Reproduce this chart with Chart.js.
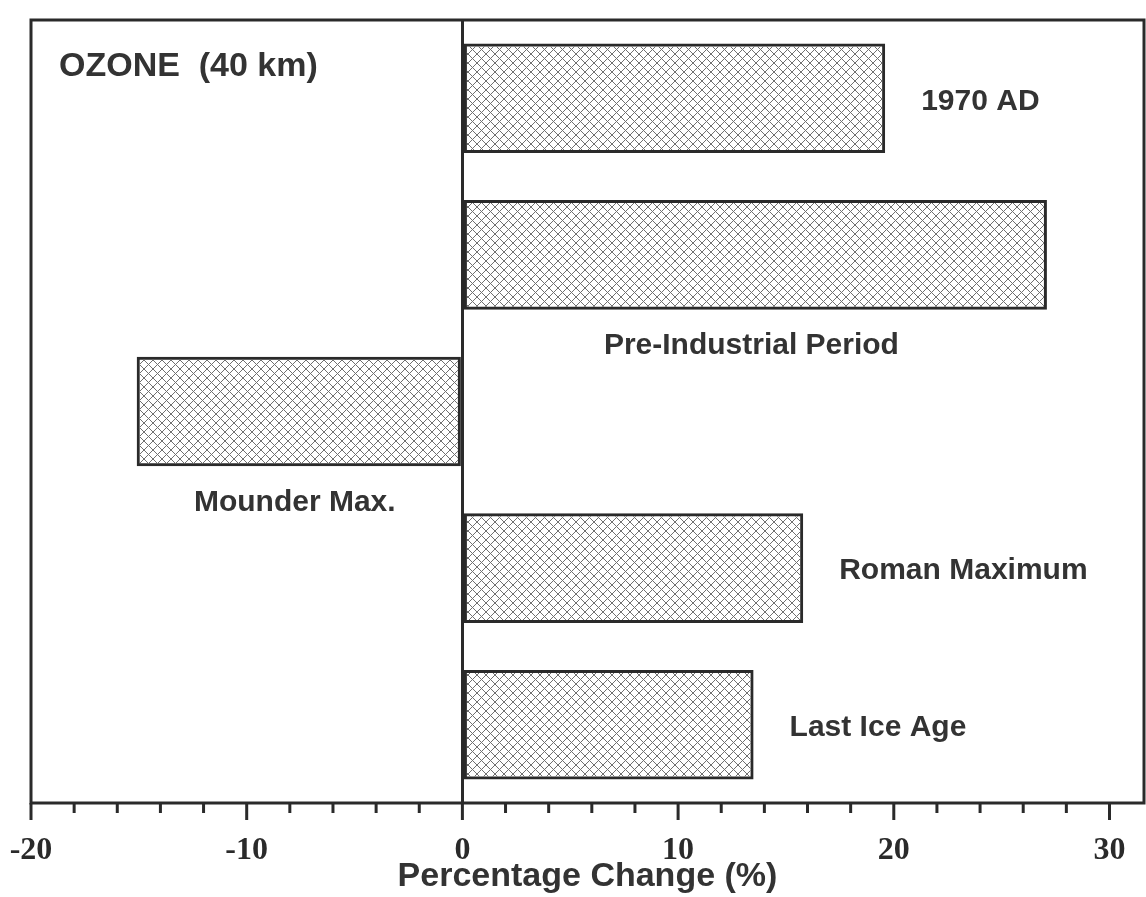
<!DOCTYPE html>
<html>
<head>
<meta charset="utf-8">
<script src="https://cdn.jsdelivr.net/npm/chart.js@4"></script>
<style>
  html, body { margin: 0; padding: 0; background: #fff; }
  #wrap { width: 1146px; height: 897px; }
</style>
</head>
<body>
<div id="wrap"><canvas id="ozoneChart" width="1146" height="897"></canvas></div>
<script>
// periods, top to bottom
const periods = ['1970 AD', 'Pre-Industrial Period', 'Mounder Max.', 'Roman Maximum', 'Last Ice Age'];
// ozone change at 40 km, %
const ozoneChange = [19.6, 27.1, -15.1, 15.8, 13.5];
// x axis ticks (labels only on the multiples of 10)
const tickValues = [-20, -18, -16, -14, -12, -10, -8, -6, -4, -2, 0, 2, 4, 6, 8, 10, 12, 14, 16, 18, 20, 22, 24, 26, 28, 30];
const panelTitle = 'OZONE  (40 km)';

const ink = '#2a2a2a';

// cross hatch fill
function hatch() {
    const c = document.createElement('canvas');
    c.width = 9; c.height = 9;
    const g = c.getContext('2d');
    g.strokeStyle = '#707070';
    g.lineWidth = 1;
    g.beginPath();
    g.moveTo(0, 0); g.lineTo(9, 9);
    g.moveTo(9, 0); g.lineTo(0, 9);
    g.stroke();
    return g.createPattern(c, 'repeat');
}

// where each period name sits relative to its bar
const labelSide = ['right', 'below', 'below', 'right', 'right'];

const framePlugin = {
    id: 'frame',
    afterDraw(chart) {
        const { ctx, chartArea: a } = chart;
        const xs = chart.scales.x;
        ctx.save();
        ctx.strokeStyle = ink;
        ctx.lineWidth = 3;
        ctx.strokeRect(a.left, a.top, a.right - a.left, a.bottom - a.top);

        // tick marks under the axis
        xs.ticks.forEach((t) => {
            const px = xs.getPixelForValue(t.value);
            const len = t.value % 10 === 0 ? 17 : 10;
            ctx.beginPath();
            ctx.moveTo(px, a.bottom);
            ctx.lineTo(px, a.bottom + len);
            ctx.stroke();
        });

        // panel title
        ctx.fillStyle = '#333';
        ctx.font = 'bold 34px "Liberation Sans", Arial, sans-serif';
        ctx.textAlign = 'left';
        ctx.textBaseline = 'middle';
        ctx.fillText(panelTitle, a.left + 28, a.top + 47);

        // period names
        ctx.font = 'bold 30px "Liberation Sans", Arial, sans-serif';
        chart.getDatasetMeta(0).data.forEach((bar, i) => {
            const p = bar.getProps(['x', 'y', 'base', 'height'], true);
            if (labelSide[i] === 'right') {
                ctx.textAlign = 'left';
                ctx.fillText(periods[i], Math.max(p.x, p.base) + 36, p.y + 3);
            } else {
                ctx.textAlign = 'center';
                ctx.fillText(periods[i], (p.x + p.base) / 2 - 4, p.y + p.height / 2 + 36);
            }
        });
        ctx.restore();
    }
};

const ctx = document.getElementById('ozoneChart').getContext('2d');
const ozoneChart = new Chart(ctx, {
    type: 'bar',
    data: {
        labels: periods,
        datasets: [{
            data: ozoneChange,
            backgroundColor: hatch(),
            borderColor: ink,
            borderWidth: 3,
            borderSkipped: false,
            barPercentage: 0.7,
            categoryPercentage: 1,
        }],
    },
    options: {
        indexAxis: 'y',
        responsive: false,
        animation: false,
        events: [],
        layout: { padding: { left: 31, right: 2, top: 20, bottom: 0 } },
        plugins: { legend: { display: false }, tooltip: { enabled: false } },
        scales: {
            y: { display: false },
            x: {
                min: -20,
                max: 31.6,
                afterBuildTicks: (s) => { s.ticks = tickValues.map((v) => ({ value: v })); },
                afterFit: (s) => { s.height = 94; s.paddingLeft = 0; s.paddingRight = 0; },
                ticks: {
                    autoSkip: false,
                    maxRotation: 0,
                    padding: 29,
                    color: ink,
                    font: { family: '"Liberation Serif", "Times New Roman", serif', size: 32, weight: 'bold' },
                    callback: (v) => (v % 10 === 0 ? String(v) : ''),
                },
                grid: {
                    drawTicks: false,
                    lineWidth: 3,
                    color: (c) => (c.tick && c.tick.value === 0 ? ink : 'rgba(0,0,0,0)'),
                },
                border: { display: false },
                title: {
                    display: true,
                    text: 'Percentage Change (%)',
                    color: '#333',
                    padding: { top: 0, bottom: 0 },
                    font: { family: '"Liberation Sans", Arial, sans-serif', size: 34, weight: 'bold', lineHeight: 1.2 },
                },
            },
        },
    },
    plugins: [framePlugin],
});
</script>
</body>
</html>
